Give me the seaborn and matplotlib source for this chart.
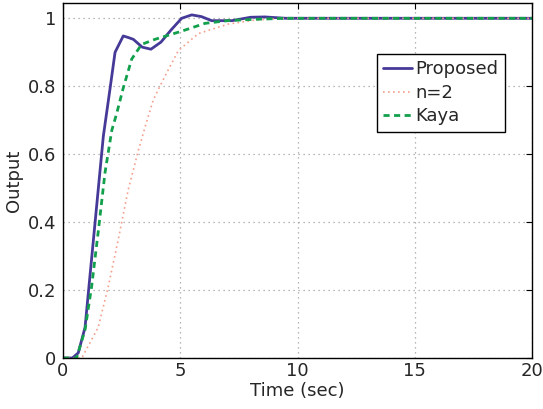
import numpy as np
import pandas as pd
import matplotlib
matplotlib.use('Agg')
import matplotlib.pyplot as plt
import seaborn as sns

PROPOSED_COLOR = '#463a98'
N2_COLOR = '#f5a08c'
KAYA_COLOR = '#13a04c'

# Step responses
t_proposed = [0, 0.4, 0.65, 0.94, 1.3, 1.72, 2.0, 2.22, 2.57, 2.8, 3.0, 3.38, 3.75, 4.18,
              4.6, 5.06, 5.49, 5.9, 6.34, 7.2, 8.0, 8.6, 9.5, 10.5, 12, 14, 16, 18, 20]
y_proposed = [0, 0, 0.015, 0.09, 0.35, 0.653, 0.79, 0.90, 0.948, 0.943, 0.938, 0.915, 0.909, 0.93,
              0.965, 1.0, 1.01, 1.005, 0.993, 0.993, 1.003, 1.004, 1.0, 1.0, 1.0, 1.0, 1.0, 1.0, 1.0]

t_n2 = [0, 0.8, 1.5, 1.93, 2.36, 2.78, 3.21, 3.5, 3.85, 4.35, 4.92, 5.77, 7.05, 8.2, 9.5, 11, 14, 17, 20]
y_n2 = [0, 0, 0.09, 0.21, 0.35, 0.495, 0.61, 0.68, 0.76, 0.83, 0.905, 0.955, 0.983, 0.995, 1.0, 1.0, 1.0, 1.0, 1.0]

t_kaya = [0, 0.58, 0.94, 1.22, 1.5, 1.79, 2.08, 2.29, 2.57, 2.93, 3.35, 3.92, 5.06, 6.05, 7.0, 8.2, 9.5, 11, 14, 17, 20]
y_kaya = [0, 0, 0.083, 0.21, 0.37, 0.545, 0.67, 0.72, 0.795, 0.88, 0.923, 0.938, 0.962, 0.985, 0.993, 0.997, 1.0, 1.0, 1.0, 1.0, 1.0]

x_ticks = [0, 5, 10, 15, 20]
y_ticks = [0, 0.2, 0.4, 0.6, 0.8, 1]
y_tick_labels = ['0', '0.2', '0.4', '0.6', '0.8', '1']


def main():
    sns.set_style('white')
    plt.rcParams['font.family'] = ['DejaVu Sans']
    plt.rcParams['xtick.direction'] = 'in'
    plt.rcParams['ytick.direction'] = 'in'

    fig, ax = plt.subplots(figsize=(5.43, 4.09), dpi=100)
    fig.subplots_adjust(left=63/543, right=532/543, top=1-3/409, bottom=1-358/409)

    sns.lineplot(x=t_proposed, y=y_proposed, ax=ax, color=PROPOSED_COLOR, lw=2.0, label='Proposed')
    sns.lineplot(x=t_n2, y=y_n2, ax=ax, color=N2_COLOR, lw=1.2, linestyle=(0, (1, 2)), label='n=2')
    sns.lineplot(x=t_kaya, y=y_kaya, ax=ax, color=KAYA_COLOR, lw=2.0, linestyle=(0, (2.2, 1.6)), label='Kaya')

    ax.set_xlim(0, 20)
    ax.set_ylim(0, 1.045)
    ax.set_xticks(x_ticks)
    ax.set_yticks(y_ticks)
    ax.set_yticklabels(y_tick_labels)
    ax.tick_params(labelsize=13, length=4, color='black', top=True, right=True)
    ax.tick_params(axis='x', pad=3)
    ax.tick_params(axis='y', pad=5)
    ax.set_xlabel('Time (sec)', fontsize=13, labelpad=1)
    ax.set_ylabel('Output', fontsize=13, labelpad=3)

    ax.grid(True, linestyle=(0, (1, 3)), color='#a0a0a0', lw=0.9)
    for s in ax.spines.values():
        s.set_color('black')
        s.set_linewidth(1.0)

    leg = ax.legend(loc='upper right', bbox_to_anchor=(0.942, 0.856), borderaxespad=0,
                    fontsize=13, handlelength=1.6, handletextpad=0.2, labelspacing=0.3,
                    fancybox=False, framealpha=1, edgecolor='black', borderpad=0.35)
    leg.get_frame().set_linewidth(1.0)

    fig.savefig('out.png', dpi=100)
    plt.close(fig)


if __name__ == '__main__':
    main()
